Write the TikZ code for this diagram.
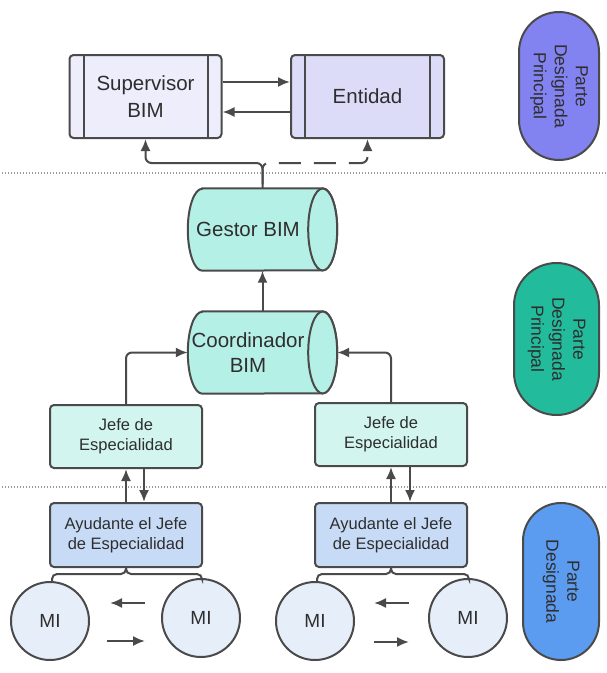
\documentclass[tikz,border=0pt]{standalone}
\usepackage{fontspec}
\setmainfont{Liberation Sans}
\usetikzlibrary{arrows.meta,calc,shapes.misc}

\definecolor{ink}{HTML}{4A4A4A}
\definecolor{txt}{HTML}{2E2E2E}
\definecolor{supfill}{HTML}{EDEDFB}
\definecolor{entfill}{HTML}{DCDCF8}
\definecolor{drumfill}{HTML}{B5F0E6}
\definecolor{jefefill}{HTML}{D2F5EF}
\definecolor{ayufill}{HTML}{C8DBF6}
\definecolor{mifill}{HTML}{E6EEF9}
\definecolor{pilla}{HTML}{8282F0}
\definecolor{pillb}{HTML}{22BC9C}
\definecolor{pillc}{HTML}{5C9CF0}
\definecolor{sepgray}{HTML}{9A9A9A}

% horizontal drum (cylinder lying on its side, front cap on the right)
\newcommand\drumoutline[1]{%
  \path[draw=ink, line width=2pt, fill=drumfill]
    ($(#1.north west)+(14.5,0)$) -- ($(#1.north east)+(-14.5,0)$)
    arc[start angle=90, end angle=-90, x radius=14.5pt, y radius=41pt]
    -- ($(#1.south west)+(14.5,0)$)
    arc[start angle=270, end angle=90, x radius=14.5pt, y radius=41pt] -- cycle;
  \path[draw=ink, line width=2pt, fill=drumfill]
    ($(#1.east)+(-14.5,0)$) ellipse[x radius=14.5pt, y radius=41pt];
}

\begin{document}
\begin{tikzpicture}[x=1pt, y=-1pt,
  conn/.style={draw=ink, line width=2pt},
  arr/.style={conn, -{Latex[length=12pt,width=10pt]}},
  sepline/.style={draw=sepgray, line width=1.2pt, dash pattern=on 1pt off 2pt},
  procbox/.style={draw=ink, line width=2pt, rounded corners=4pt,
    minimum width=152pt, minimum height=83pt, text=txt, align=center,
    font=\fontsize{20.5}{27}\selectfont},
  drum/.style={minimum width=149pt, minimum height=82pt, inner sep=0pt},
  drumtext/.style={text=txt, align=center, font=\fontsize{20.5}{25}\selectfont},
  rolebox/.style={draw=ink, line width=2pt, rounded corners=4pt,
    minimum width=152pt, minimum height=63pt, text=txt, align=center,
    font=\fontsize{16.5}{20}\selectfont},
  member/.style={circle, draw=ink, line width=2pt, fill=mifill,
    minimum size=78pt, inner sep=0pt, text=txt, font=\fontsize{19}{22}\selectfont},
  pill/.style={rounded rectangle, draw=ink, line width=2pt, rotate=-90,
    inner sep=0pt, text=txt, align=center, font=\fontsize{17.5}{21}\selectfont},
]
\useasboundingbox (0,0) rectangle (607,673);

% section separators
\draw[sepline] (2,173) -- (607,173);
\draw[sepline] (2,487) -- (607,487);

% top level
\node[procbox, fill=supfill] (sup) at (145.5,96.5) {Supervisor\\BIM};
\node[procbox, fill=entfill, minimum width=153pt] (ent) at (367.5,96.5) {Entidad};
\foreach \b in {sup,ent}{
  \draw[conn] ($(\b.north west)+(15,0)$) -- ($(\b.south west)+(15,0)$);
  \draw[conn] ($(\b.north east)+(-15,0)$) -- ($(\b.south east)+(-15,0)$);
}
\draw[arr] ($(sup.east)+(0,-14.5)$) -- ($(ent.west)+(0,-14.5)$);
\draw[arr] ($(ent.west)+(0,15.5)$) -- ($(sup.east)+(0,15.5)$);

% drums
\node[drum] (gestor) at (262.5,229.5) {};
\drumoutline{gestor}
\node[drumtext] (gestortxt) at ($(gestor.center)+(-14.5,0)$) {Gestor BIM};

\node[drum] (coord) at (262.5,352.5) {};
\drumoutline{coord}
\node[drumtext] (coordtxt) at ($(coord.center)+(-14.5,0)$) {Coordinador\\BIM};

\draw[arr] (coord.north) -- (gestor.south);

% branch from Gestor BIM to the top level
\coordinate (hub) at (262.5,163);
\draw[arr, rounded corners=6pt, dash pattern=on 22pt off 13pt, dash phase=-4pt]
  (gestor.north) -- (hub) -- (hub -| ent.south) -- (ent.south);
\draw[arr, rounded corners=6pt] (gestor.north) -- (hub) -- (hub -| sup.south) -- (sup.south);

% discipline leads
\node[rolebox, fill=jefefill] (jl) at (126,436.5) {Jefe de\\Especialidad};
\node[rolebox, fill=jefefill] (jr) at (391,434.5) {Jefe de\\Especialidad};
\draw[arr, rounded corners=6pt] (jl.north) |- (coord.west);
\draw[arr, rounded corners=6pt] (jr.north) |- (coord.east);

% assistants
\node[rolebox, fill=ayufill, minimum height=64pt] (al) at (126,535) {Ayudante el Jefe\\de Especialidad};
\node[rolebox, fill=ayufill, minimum height=64pt] (ar) at (391,535) {Ayudante el Jefe\\de Especialidad};
\draw[arr] (al.north) -- (jl.south);
\draw[arr] ($(jl.south)+(18,0)$) -- ($(al.north)+(18,0)$);
\draw[arr] (ar.north) -- (jr.south);
\draw[arr] ($(jr.south)+(19,0)$) -- ($(ar.north)+(19,0)$);

% team members
\node[member] (mi1) at (50,621) {MI};
\node[member] (mi2) at (201,618) {MI};
\node[member] (mi3) at (315,621) {MI};
\node[member] (mi4) at (468,618) {MI};

\draw[conn, rounded corners=5pt] (al.south) -- ++(0,6) -| ($(mi1.north)+(2,0)$);
\draw[conn, rounded corners=5pt] (al.south) -- ++(0,6) -| ($(mi2.north)+(1,0)$);
\draw[conn, rounded corners=5pt] (ar.south) -- ++(0,6) -| ($(mi3.north)+(2,0)$);
\draw[conn, rounded corners=5pt] (ar.south) -- ++(0,6) -| ($(mi4.north)+(1,0)$);

% exchange between members
\coordinate (xa1) at (145,603); \coordinate (xa2) at (110,603);
\coordinate (xb1) at (107,641); \coordinate (xb2) at (145,641);
\coordinate (xc1) at (409,603); \coordinate (xc2) at (374,603);
\coordinate (xd1) at (374,642); \coordinate (xd2) at (409,642);
\draw[arr] (xa1) -- (xa2);
\draw[arr] (xb1) -- (xb2);
\draw[arr] (xc1) -- (xc2);
\draw[arr] (xd1) -- (xd2);

% party labels
\node[pill, fill=pilla, minimum width=148pt, minimum height=80pt] (pa) at (559,86) {Parte\\Designada\\Principal};
\node[pill, fill=pillb, minimum width=152pt, minimum height=85pt] (pb) at (556.5,339) {Parte\\Designada\\Principal};
\node[pill, fill=pillc, minimum width=157pt, minimum height=76pt] (pc) at (561,581.5) {Parte\\Designada};
\end{tikzpicture}
\end{document}
